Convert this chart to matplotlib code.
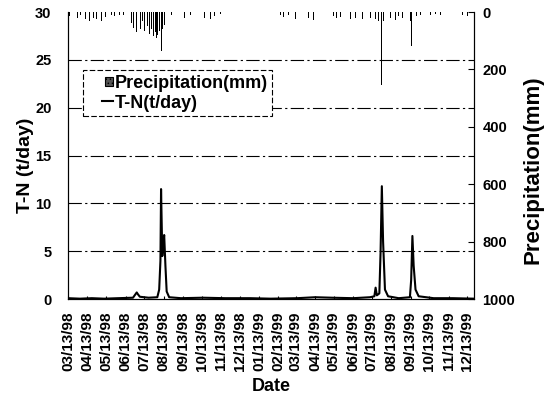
import matplotlib
matplotlib.use("Agg")
import matplotlib.pyplot as plt
import matplotlib.patches as mpatches
import matplotlib.lines as mlines
import pandas as pd

plt.rcParams['font.family'] = ['Liberation Sans', 'DejaVu Sans']
plt.rcParams['font.weight'] = 'bold'
plt.rcParams['hatch.linewidth'] = 0.6

# T-N load (t/day)
tn_dates = ["1998-03-13", "1998-04-01", "1998-04-20", "1998-05-10", "1998-06-01", "1998-06-25",
            "1998-07-01", "1998-07-03", "1998-07-06", "1998-07-20", "1998-08-03", "1998-08-06",
            "1998-08-08", "1998-08-09", "1998-08-11", "1998-08-12", "1998-08-14", "1998-08-16",
            "1998-08-18", "1998-08-22", "1998-09-10", "1998-10-15", "1998-11-20", "1998-12-30",
            "1999-02-01", "1999-03-15", "1999-04-13", "1999-05-10", "1999-06-13", "1999-07-10",
            "1999-07-17", "1999-07-19", "1999-07-21", "1999-07-25", "1999-07-27", "1999-07-29",
            "1999-07-31", "1999-08-03", "1999-08-08", "1999-08-25", "1999-09-12", "1999-09-14",
            "1999-09-16", "1999-09-18", "1999-09-21", "1999-09-26", "1999-10-20", "1999-11-20",
            "1999-12-24"]
tn_values = [0.1, 0.05, 0.1, 0.05, 0.1, 0.15,
             0.7, 0.5, 0.25, 0.15, 0.2, 1.0,
             4.0, 11.5, 4.5, 5.5, 6.7, 3.5,
             0.8, 0.2, 0.1, 0.15, 0.1, 0.1,
             0.05, 0.1, 0.2, 0.15, 0.1, 0.2,
             0.3, 1.2, 0.4, 0.6, 5.0, 11.8,
             6.0, 1.0, 0.3, 0.1, 0.2, 2.0,
             6.6, 3.5, 1.0, 0.3, 0.1, 0.1,
             0.05]

# Precipitation (mm)
pr_dates = ["1998-03-15", "1998-03-28", "1998-04-02", "1998-04-10", "1998-04-16", "1998-04-22",
            "1998-04-28", "1998-05-05", "1998-05-12", "1998-05-21", "1998-05-27", "1998-06-03",
            "1998-06-10", "1998-06-22", "1998-06-26", "1998-06-30", "1998-07-03", "1998-07-07",
            "1998-07-10", "1998-07-14", "1998-07-18", "1998-07-21", "1998-07-25", "1998-07-28",
            "1998-07-31", "1998-08-02", "1998-08-04", "1998-08-06", "1998-08-09", "1998-08-11",
            "1998-08-14", "1998-08-25", "1998-09-02", "1998-09-15", "1998-09-25", "1998-10-12",
            "1998-10-17", "1998-10-28", "1998-11-02", "1998-11-13", "1998-12-28", "1999-02-17",
            "1999-02-22", "1999-03-02", "1999-03-13", "1999-04-03", "1999-04-11", "1999-05-13",
            "1999-05-17", "1999-05-24", "1999-06-09", "1999-06-17", "1999-06-28", "1999-07-11",
            "1999-07-19", "1999-07-24", "1999-07-28", "1999-08-01", "1999-08-12", "1999-08-20",
            "1999-08-25", "1999-08-31", "1999-09-13", "1999-09-15", "1999-09-22", "1999-09-29",
            "1999-10-15", "1999-10-23", "1999-10-31", "1999-12-05", "1999-12-13"]
pr_values = [15, 20, 10, 25, 30, 20,
             25, 30, 18, 10, 15, 10,
             12, 40, 55, 70, 45, 60,
             30, 65, 50, 75, 60, 85,
             70, 90, 80, 65, 137, 60,
             45, 10, 8, 20, 12, 10,
             22, 25, 15, 8, 10, 12,
             18, 10, 25, 20, 28, 15,
             22, 18, 25, 20, 25, 20,
             25, 30, 255, 30, 22, 28,
             15, 20, 30, 117, 15, 12,
             10, 8, 10, 12, 15]

tick_labels = ["03/13/98", "04/13/98", "05/13/98", "06/13/98", "07/13/98", "08/13/98",
               "09/13/98", "10/13/98", "11/13/98", "12/13/98", "01/13/99", "02/13/99",
               "03/13/99", "04/13/99", "05/13/99", "06/13/99", "07/13/99", "08/13/99",
               "09/13/99", "10/13/99", "11/13/99", "12/13/99"]

tn_d = pd.to_datetime(tn_dates)
pr_d = pd.to_datetime(pr_dates)
tick_d = pd.to_datetime(tick_labels, format="%m/%d/%y")


class RightPatch:
    def legend_artist(self, legend, orig_handle, fontsize, handlebox):
        x0, y0 = handlebox.xdescent, handlebox.ydescent
        w, h = handlebox.width, handlebox.height
        s = 0.45 * fontsize
        p = mpatches.Rectangle((x0 + w - s, y0 + (h - s) / 2), s, s,
                               facecolor='#555555', edgecolor='black', hatch='....',
                               lw=0.8, transform=handlebox.get_transform())
        handlebox.add_artist(p)
        return p


class RightLine:
    def legend_artist(self, legend, orig_handle, fontsize, handlebox):
        x0, y0 = handlebox.xdescent, handlebox.ydescent
        w, h = handlebox.width, handlebox.height
        ln = mlines.Line2D([x0 + w - 0.6 * fontsize, x0 + w], [y0 + h / 2, y0 + h / 2],
                           color='black', lw=1.5, transform=handlebox.get_transform())
        handlebox.add_artist(ln)
        return ln


fig = plt.figure(figsize=(5.45, 4.07), dpi=100)
ax = fig.add_subplot(111)
fig.subplots_adjust(left=0.125, right=0.870, top=0.9705, bottom=0.265)

ax.plot(tn_d, tn_values, color='black', lw=1.5)
ax.set_ylim(0, 30)
ax.set_yticks([0, 5, 10, 15, 20, 25, 30])
ax.set_xlim(pd.Timestamp("1998-03-13"), pd.Timestamp("1999-12-24"))
ax.set_xticks(tick_d)
ax.set_xticklabels(tick_labels, rotation=90, fontsize=11, fontweight='bold')
ax.tick_params(axis='y', labelsize=10.5, length=0, pad=12)
ax.tick_params(axis='x', direction='in', length=2, pad=9)
for v in [5, 10, 15, 20, 25]:
    ax.axhline(v, color='black', lw=0.8, ls=(0, (12, 3, 2, 3)), zorder=0)
ax.set_ylabel("T-N (t/day)", fontsize=14, fontweight='bold')
ax.yaxis.set_label_coords(-0.084, 0.467)
ax.set_xlabel("Date", fontsize=13, fontweight='bold')
ax.xaxis.set_label_coords(0.5, -0.275)

ax2 = ax.twinx()
ax2.bar(pr_d, pr_values, width=1.5, color='black', align='center')
ax2.set_ylim(1000, 0)
ax2.set_yticks([0, 200, 400, 600, 800, 1000])
ax2.tick_params(axis='y', labelsize=10.5, direction='in', length=4, pad=6)
ax2.set_ylabel("Precipitation(mm)", fontsize=16, fontweight='bold')
ax2.yaxis.set_label_coords(1.118, 0.45)

for a in (ax, ax2):
    a.spines['top'].set_visible(False)
    for s in a.spines.values():
        s.set_linewidth(0.8)

h1 = mpatches.Patch(label='Precipitation(mm)')
h2 = mlines.Line2D([], [], label='T-N(t/day)')
leg = ax2.legend(handles=[h1, h2], handler_map={h1: RightPatch(), h2: RightLine()},
                 loc='upper left', bbox_to_anchor=(0.037, 0.797),
                 borderaxespad=0, fancybox=False, framealpha=1, edgecolor='black',
                 prop={'size': 13, 'weight': 'bold'}, handlelength=1.4, handletextpad=0.1,
                 labelspacing=0.15, borderpad=0.25)
leg.get_frame().set_linestyle((0, (5, 2)))
leg.get_frame().set_linewidth(0.8)

fig.savefig("out.png", dpi=100)
